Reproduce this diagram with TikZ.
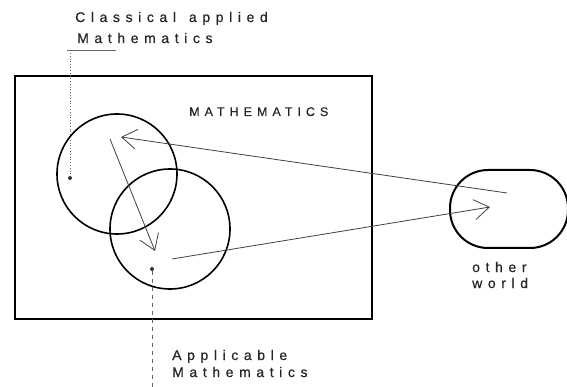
\documentclass[tikz,border=0pt]{standalone}
\usepackage{fontspec}
\setmainfont{Liberation Sans}
\newfontfamily\spaced[LetterSpace=40,FakeBold=0.6]{Liberation Sans}
\usetikzlibrary{arrows.meta}
\begin{document}
\begin{tikzpicture}[x=1pt,y=-1pt,
  lbl/.style={font=\spaced\fontsize{14}{16}\selectfont, inner sep=0pt, anchor=base west, text=black!85},
  ring/.style={circle, draw, line width=1.6pt, minimum size=120pt, inner sep=0pt},
  link/.style={line width=0.8pt, draw=black!75, -{Straight Barb[length=15pt,width=20pt,line width=0.8pt]}},
  pin/.style={circle, fill=black!80, minimum size=4pt, inner sep=0pt}]
\useasboundingbox (0,0) rectangle (567,387);
% main rectangle
\node[draw, line width=2pt, minimum width=357pt, minimum height=242pt, inner sep=0pt] (math) at (193.5,197.5) {};
\node[lbl, font=\spaced\fontsize{12.5}{14}\selectfont] (mlabel) at (189,116) {MATHEMATICS};
% circles
\node[ring] (c1) at (117,174) {};
\node[ring] (c2) at (170,229) {};
% other world
\node[draw, line width=2pt, rounded corners=38pt, minimum width=118pt, minimum height=78pt, inner sep=0pt] (ow) at (509,209) {};
\node[lbl] (ow1) at (472,272) {other};
\node[lbl] (ow2) at (472,288) {world};
% arrows
\coordinate (a1s) at (507,193);
\coordinate (a1e) at (121,137);
\coordinate (a2s) at (172,259);
\coordinate (a2e) at (490,207);
\coordinate (a3s) at (110,139);
\coordinate (a3e) at (155,251);
\draw[link] (a1s) -- (a1e);
\draw[link] (a2s) -- (a2e);
\draw[link] (a3s) -- (a3e);
% labels
\node[lbl] (cl1) at (75,22) {Classical\hspace{13pt}applied};
\node[lbl] (cl2) at (77,43) {Mathematics};
\coordinate (ul1) at (67,50);
\coordinate (ul2) at (116,50);
\draw[line width=0.8pt, black!60] (ul1) -- (ul2);
\node[pin] (p1) at (70,178) {};
\coordinate (t1) at (70,53);
\draw[line width=0.8pt, black!60, dotted] (t1) -- (p1);
\node[pin] (p2) at (152,269) {};
\coordinate (t2) at (152,387);
\draw[line width=0.8pt, black!60, dash pattern=on 4pt off 4pt] (p2) -- (t2);
\node[lbl] (ap1) at (172,360) {Applicable};
\node[lbl] (ap2) at (172,377) {Mathematics};
\end{tikzpicture}
\end{document}
